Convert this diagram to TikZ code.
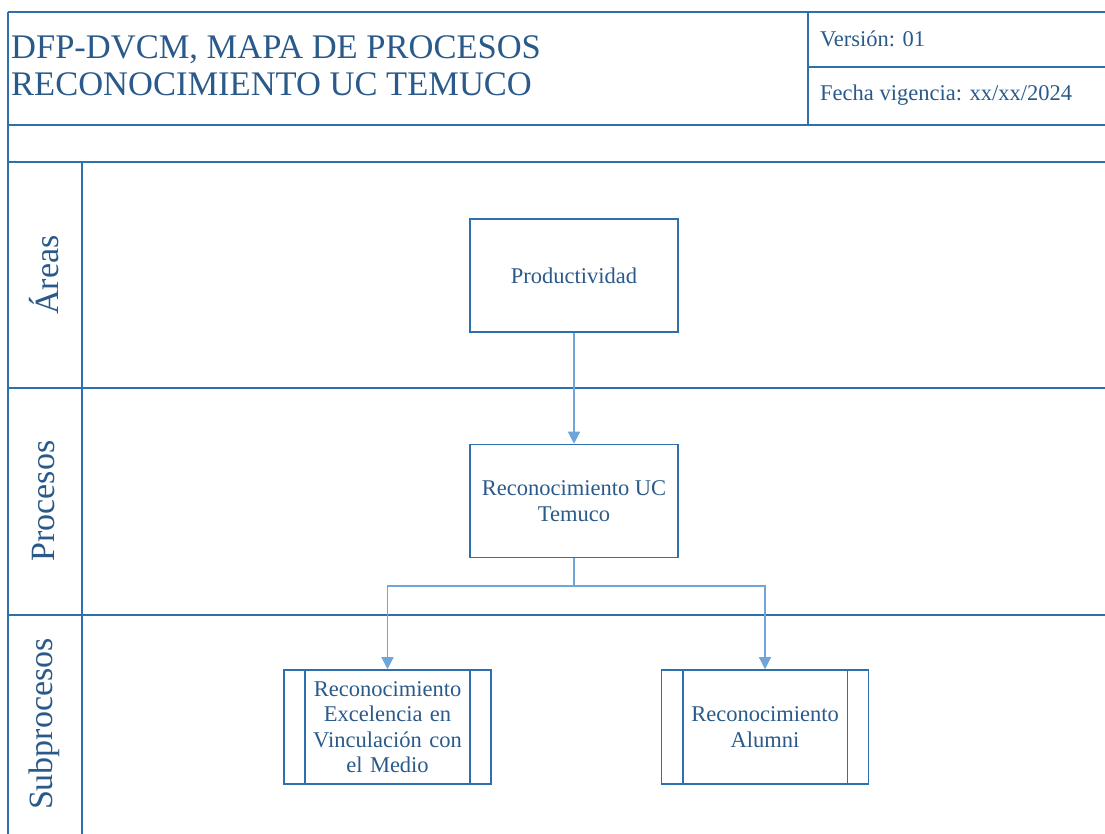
\documentclass[tikz,border=0pt]{standalone}
\usepackage{fontspec}
\setmainfont{Liberation Serif}
\usetikzlibrary{arrows.meta}
\definecolor{frame}{HTML}{2E6FAE}
\definecolor{txt}{HTML}{2A5A8A}
\definecolor{conn}{HTML}{6FA5D8}
\tikzset{
  frameline/.style={draw=frame,line width=2pt},
  boxfont/.style={font=\fontsize{22.5}{25.5}\selectfont},
  procbox/.style={draw=frame,line width=1.6pt,minimum width=208pt,minimum height=113pt,inner sep=0pt,align=center,text=txt,boxfont},
  subbox/.style={draw=frame,line width=1.6pt,minimum width=207pt,minimum height=114pt,inner sep=0pt,align=center,text=txt,boxfont,text width=170pt},
  lanelabel/.style={rotate=90,text=txt,font=\fontsize{34}{38}\selectfont},
  conn/.style={draw=conn,line width=1.3pt},
  connarrow/.style={conn,-{Triangle[length=12pt,width=12pt]}}
}
\begin{document}
\begin{tikzpicture}[x=1pt,y=-1pt]
\useasboundingbox (0,0) rectangle (1105,834);
\fill[white] (0,0) rectangle (1105,834);
\begin{scope}
\clip (0,0) rectangle (1105,834);
% frame lines
\draw[frameline] (8,12) -- (1120,12);
\draw[frameline] (8,12) -- (8,850);
\draw[frameline] (8,125) -- (1120,125);
\draw[frameline] (8,162) -- (1120,162);
\draw[frameline] (808,12) -- (808,125);
\draw[frameline] (808,67) -- (1120,67);
\draw[frameline] (82,162) -- (82,850);
\draw[frameline] (8,388) -- (1120,388);
\draw[frameline] (8,615) -- (1120,615);
\end{scope}
% header texts
\node[anchor=west,text=txt,font=\fontsize{34.5}{37}\selectfont,align=left,inner sep=0pt] (title) at (11,66) {DFP-DVCM, MAPA DE PROCESOS\\RECONOCIMIENTO UC TEMUCO};
\node[anchor=west,text=txt,font=\fontsize{22.5}{25}\selectfont,inner sep=0pt] (version) at (820,39) {Versión: 01};
\node[anchor=west,text=txt,font=\fontsize{22.5}{25}\selectfont,inner sep=0pt] (fecha) at (820,95) {Fecha vigencia: xx/xx/2024};
% lane labels
\node[lanelabel] (areas) at (44,275) {Áreas};
\node[lanelabel] (procesos) at (44,501) {Procesos};
\node[lanelabel] (subprocesos) at (44,724) {Subprocesos};
% boxes
\node[procbox] (prod) at (574,275.5) {Productividad};
\node[procbox] (ruc) at (574,501) {Reconocimiento UC\\Temuco};
\node[subbox] (rev) at (387.5,727) {Reconocimiento\\Excelencia en\\Vinculación con\\el Medio};
\node[subbox] (ra) at (765,727) {Reconocimiento\\Alumni};
\foreach \n in {rev,ra}{
  \draw[draw=frame,line width=1.6pt] ([xshift=22pt]\n.north west) -- ([xshift=22pt]\n.south west);
  \draw[draw=frame,line width=1.6pt] ([xshift=-22pt]\n.north east) -- ([xshift=-22pt]\n.south east);
}
% connectors
\draw[connarrow] (prod.south) -- (ruc.north);
\coordinate (split) at (574,586);
\draw[conn] (ruc.south) -- (split);
\draw[connarrow] (split) -| (rev.north);
\draw[connarrow] (split) -| (ra.north);
\end{tikzpicture}
\end{document}
